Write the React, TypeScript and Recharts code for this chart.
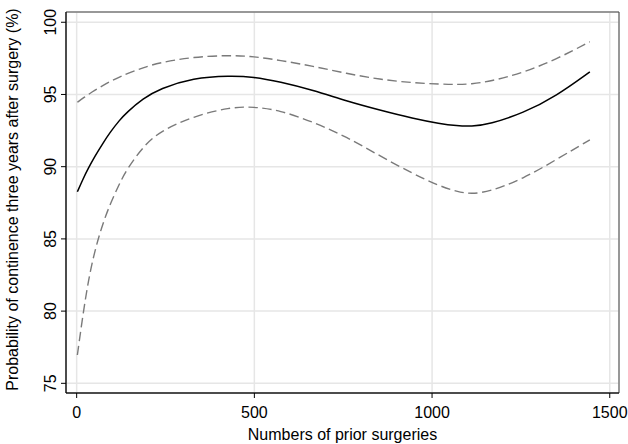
import { LineChart, Line, XAxis, YAxis, CartesianGrid, ReferenceArea } from "recharts";

// number of prior surgeries (x) and fitted probability with 95% band
const surgeries = [2, 18, 33, 51, 74, 94, 120, 140, 187, 234, 328, 431, 498, 571, 665, 759, 853, 947, 1022, 1070, 1110, 1162, 1256, 1350, 1444];
const estimate = [88.26, 89.16, 89.9, 90.71, 91.63, 92.38, 93.2, 93.74, 94.72, 95.4, 96.15, 96.3, 96.22, 95.88, 95.3, 94.55, 93.92, 93.34, 92.98, 92.83, 92.78, 92.95, 93.7, 94.9, 96.57];
const upperCI = [94.46, 94.75, 95.0, 95.29, 95.62, 95.9, 96.2, 96.42, 96.86, 97.21, 97.6, 97.72, 97.63, 97.37, 96.96, 96.45, 96.04, 95.8, 95.72, 95.69, 95.72, 95.9, 96.5, 97.44, 98.65];
const lowerCI = [76.96, 79.82, 82.13, 84.2, 86.1, 87.4, 88.8, 89.77, 91.4, 92.44, 93.49, 94.12, 94.15, 93.91, 93.1, 92.07, 90.75, 89.5, 88.65, 88.28, 88.1, 88.28, 89.15, 90.5, 91.86];

const xTicks = [0, 500, 1000, 1500];
const yTicks = [75, 80, 85, 90, 95, 100];

const X_DOMAIN: [number, number] = [-30, 1526];
const Y_DOMAIN: [number, number] = [74.33, 100.71];

const FONT = "'Liberation Sans', Arial, sans-serif";

const data = surgeries.map((x, i) => ({
    x,
    est: estimate[i],
    upper: upperCI[i],
    lower: lowerCI[i],
}));

function YTick(props: any) {
    const { x, y, payload } = props;
    return (
        <text
            transform={`translate(${x - 3},${y}) rotate(-90)`}
            textAnchor="middle"
            fontSize={16}
            fontFamily={FONT}
            fill="#000"
        >
            {payload.value}
        </text>
    );
}

export default function App() {
    return (
        <div style={{ width: 628, height: 444 }}>
            <style>{"body{margin:0}"}</style>
            <LineChart
                width={628}
                height={444}
                data={data}
                margin={{ top: 12, right: 9, bottom: 0, left: 0 }}
            >
                <CartesianGrid stroke="#e6e6e6" strokeWidth={1.5} />
                <ReferenceArea
                    x1={X_DOMAIN[0]}
                    x2={X_DOMAIN[1]}
                    y1={Y_DOMAIN[0]}
                    y2={Y_DOMAIN[1]}
                    fill="none"
                    stroke="#444"
                    strokeWidth={1}
                    ifOverflow="visible"
                />
                <XAxis
                    dataKey="x"
                    type="number"
                    domain={X_DOMAIN}
                    ticks={xTicks}
                    allowDataOverflow
                    height={51}
                    tickSize={5}
                    tickMargin={9}
                    stroke="#000"
                    tick={{ fontSize: 16, fontFamily: FONT, fill: "#000" }}
                    label={{
                        content: ({ viewBox }: any) => (
                            <text
                                x={viewBox.x + viewBox.width / 2}
                                y={viewBox.y + 47}
                                textAnchor="middle"
                                fontSize={16}
                                fontFamily={FONT}
                                fill="#000"
                            >
                                Numbers of prior surgeries
                            </text>
                        ),
                    }}
                />
                <YAxis
                    type="number"
                    domain={Y_DOMAIN}
                    ticks={yTicks}
                    allowDataOverflow
                    width={66}
                    tickSize={5}
                    tickMargin={2}
                    stroke="#000"
                    tick={<YTick />}
                    label={{
                        content: ({ viewBox }: any) => {
                            const cy = viewBox.y + viewBox.height / 2 - 3;
                            return (
                                <text
                                    x={12}
                                    y={cy}
                                    transform={`rotate(-90 12 ${cy})`}
                                    textAnchor="middle"
                                    dominantBaseline="central"
                                    fontSize={16}
                                    fontFamily={FONT}
                                    fill="#000"
                                >
                                    Probability of continence three years after surgery (%)
                                </text>
                            );
                        },
                    }}
                />
                <Line
                    type="basis"
                    dataKey="upper"
                    stroke="#7a7a7a"
                    strokeWidth={1.4}
                    strokeDasharray="9.5 4.5"
                    dot={false}
                    isAnimationActive={false}
                />
                <Line
                    type="basis"
                    dataKey="lower"
                    stroke="#7a7a7a"
                    strokeWidth={1.4}
                    strokeDasharray="9.5 4.5"
                    dot={false}
                    isAnimationActive={false}
                />
                <Line
                    type="basis"
                    dataKey="est"
                    stroke="#000"
                    strokeWidth={1.5}
                    dot={false}
                    isAnimationActive={false}
                />
            </LineChart>
        </div>
    );
}
